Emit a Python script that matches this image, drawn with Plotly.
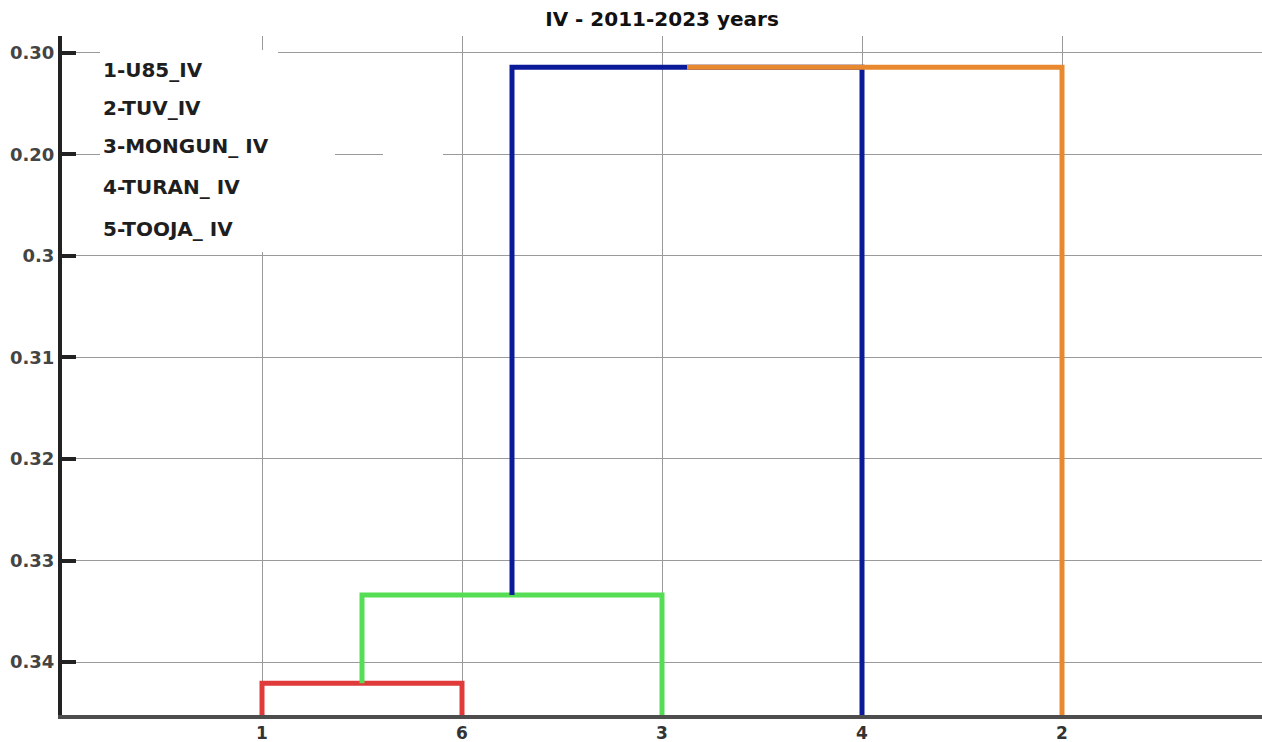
import plotly.graph_objects as go

# leaves in dendrogram order
leaf_labels = ['1', '6', '3', '4', '2']

# merges: node ids 0-4 are leaves, merge k creates node 5+k
merge_left = [0, 5, 6, 7]
merge_right = [1, 2, 3, 4]
merge_heights = [-0.21, 0.66, 5.86, 5.86]
merge_colors = ['#e03a3a', '#55dd55', '#0b1a99', '#e8892f']

# y axis tick labels (as printed on the original, bottom to top)
y_tick_vals = [0, 1, 2, 3, 4, 5, 6]
y_tick_text = ['0.34', '0.33', '0.32', '0.31', '0.3', '0.20', '0.30']

legend_lines = ['1-U85_IV', '2-TUV_IV', '3-MONGUN_ IV', '4-TURAN_ IV', '5-TOOJA_ IV']

y_range = [-0.522, 6.167]
x_range = [0, 6]

node_x = [i + 1 for i in range(len(leaf_labels))]
node_y = [y_range[0]] * len(leaf_labels)

traces = []
for a, b, h, c in zip(merge_left, merge_right, merge_heights, merge_colors):
    xl, xr = node_x[a], node_x[b]
    yl, yr = node_y[a], node_y[b]
    traces.append(go.Scatter(x=[xl, xl, xr, xr], y=[yl, h, h, yr], mode='lines',
                             line=dict(color=c, width=5), hoverinfo='skip', showlegend=False))
    node_x.append((xl + xr) / 2)
    node_y.append(h)

fig = go.Figure(data=traces)


def px_x(p):
    return (p - 62) / 200.0


def px_y(p):
    return (662 - p) / 101.5


# white patches over the grid behind the legend text
shapes = []
for x0, x1, y0, y1 in [(100, 278, 50, 252), (278, 335, 150, 160), (383, 443, 150, 160)]:
    shapes.append(dict(type='rect', xref='x', yref='y', x0=px_x(x0), x1=px_x(x1),
                       y0=px_y(y1), y1=px_y(y0), fillcolor='white', line=dict(width=0),
                       layer='between'))

annotations = []
for i, t in enumerate(legend_lines):
    py_ = [70, 108, 146, 187, 229][i]
    annotations.append(dict(text=t, x=px_x(101), y=px_y(py_), xref='x', yref='y',
                            xanchor='left', yanchor='middle', showarrow=False,
                            font=dict(family='DejaVu Sans', size=20, color='#1e1e1e', weight='bold')))

fig.update_layout(
    width=1262, height=742,
    margin=dict(l=62, r=0, t=36, b=27),
    paper_bgcolor='white', plot_bgcolor='white',
    title=dict(text='IV - 2011-2023 years', x=0.5, xref='paper', xanchor='center', y=1 - 19 / 742,
               yanchor='middle', yref='container',
               font=dict(family='DejaVu Sans', size=20, color='#111111', weight='bold')),
    xaxis=dict(range=x_range, tickvals=list(range(1, len(leaf_labels) + 1)), ticktext=leaf_labels,
               showgrid=True, gridcolor='#9a9a9a', gridwidth=1, zeroline=False, automargin=False,
               showline=True, linecolor='#4d4d4d', linewidth=4, ticks='',
               tickfont=dict(family='DejaVu Sans', size=17, color='#333333', weight='bold')),
    yaxis=dict(range=y_range, tickvals=y_tick_vals, ticktext=y_tick_text,
               showgrid=True, gridcolor='#9a9a9a', gridwidth=1, zeroline=False, automargin=False,
               showline=True, linecolor='#222222', linewidth=4, ticklabelstandoff=0,
               ticks='inside', ticklen=14, tickwidth=4, tickcolor='#222222',
               tickfont=dict(family='DejaVu Sans', size=18, color='#444444', weight='bold')),
    shapes=shapes,
    annotations=annotations,
)

# drop the default body margin so the figure fills the window exactly
fig.write_html('out.html', config={'displayModeBar': False},
               post_script="document.body.style.margin='0';document.body.style.overflow='hidden';")
